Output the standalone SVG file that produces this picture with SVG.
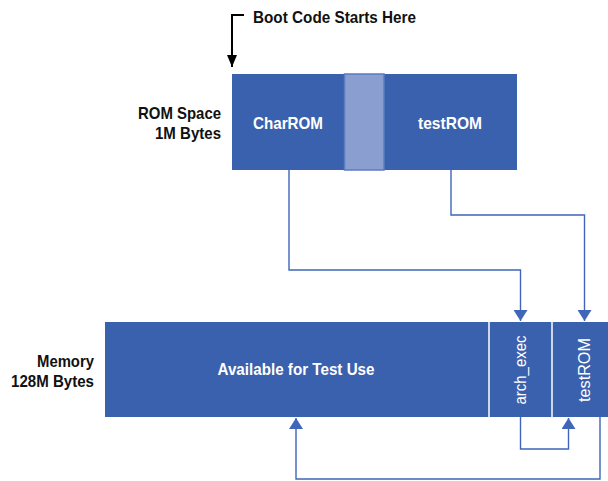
<svg xmlns="http://www.w3.org/2000/svg" width="608" height="481" viewBox="0 0 608 481">
<defs>
<style>
.t{font-family:"Liberation Sans",Arial,sans-serif;font-weight:bold;font-size:17px;}
.lbl{fill:#111;text-anchor:end;}
.in{fill:#fff;text-anchor:middle;}
.v{font-weight:normal;}
.blk{fill:#3a61ad;}
.ln{fill:none;stroke:#3f66b8;stroke-width:1.4;}
</style>
<marker id="ah" viewBox="0 0 11 14" refX="11" refY="7" markerWidth="11" markerHeight="14" markerUnits="userSpaceOnUse" orient="auto">
<path d="M0,0 L11,7 L0,14 Z" fill="#3f66b8"/>
</marker>
<marker id="bh" viewBox="0 0 12 10" refX="12" refY="5" markerWidth="12" markerHeight="10" markerUnits="userSpaceOnUse" orient="auto">
<path d="M0,0 L12,5 L0,10 Z" fill="#000"/>
</marker>
</defs>
<g id="boot">
<path d="M244,15 H232 V67" fill="none" stroke="#000" stroke-width="2" marker-end="url(#bh)"/>
<text class="t" x="253" y="23" fill="#111" textLength="163" lengthAdjust="spacingAndGlyphs">Boot Code Starts Here</text>
</g>
<g id="rom-label">
<text class="t lbl" x="221" y="119" textLength="83" lengthAdjust="spacingAndGlyphs">ROM Space</text>
<text class="t lbl" x="221" y="139" textLength="66" lengthAdjust="spacingAndGlyphs">1M Bytes</text>
</g>
<g id="rom">
<rect class="blk" x="232" y="74" width="285" height="96"/>
<rect x="344.5" y="74" width="39.5" height="96" fill="#8a9fd0" stroke="#5a7cc0" stroke-width="1.5"/>
<text class="t in" x="288" y="129" textLength="70" lengthAdjust="spacingAndGlyphs">CharROM</text>
<text class="t in" x="450" y="129" textLength="64" lengthAdjust="spacingAndGlyphs">testROM</text>
</g>
<g id="mem-label">
<text class="t lbl" x="94" y="367" textLength="57" lengthAdjust="spacingAndGlyphs">Memory</text>
<text class="t lbl" x="94" y="387" textLength="83" lengthAdjust="spacingAndGlyphs">128M Bytes</text>
</g>
<g id="memory">
<rect class="blk" x="105" y="322" width="503" height="95"/>
<line x1="489" y1="322" x2="489" y2="417" stroke="#fff" stroke-width="1.5"/>
<line x1="552" y1="322" x2="552" y2="417" stroke="#fff" stroke-width="1.5"/>
<text class="t in" x="296" y="375" textLength="157" lengthAdjust="spacingAndGlyphs">Available for Test Use</text>
<text class="t in v" transform="translate(526,370) rotate(-90)" textLength="69" lengthAdjust="spacingAndGlyphs">arch_exec</text>
<text class="t in v" transform="translate(590,370) rotate(-90)" textLength="64" lengthAdjust="spacingAndGlyphs">testROM</text>
</g>
<g id="connectors">
<path class="ln" d="M289,170 V270 H520.5 V321" marker-end="url(#ah)"/>
<path class="ln" d="M451,170 V215 H584.5 V321" marker-end="url(#ah)"/>
<path class="ln" d="M520.5,417 V449 H568.5 V418" marker-end="url(#ah)"/>
<path class="ln" d="M600,417 V479 H296 V418" marker-end="url(#ah)"/>
</g>
</svg>
